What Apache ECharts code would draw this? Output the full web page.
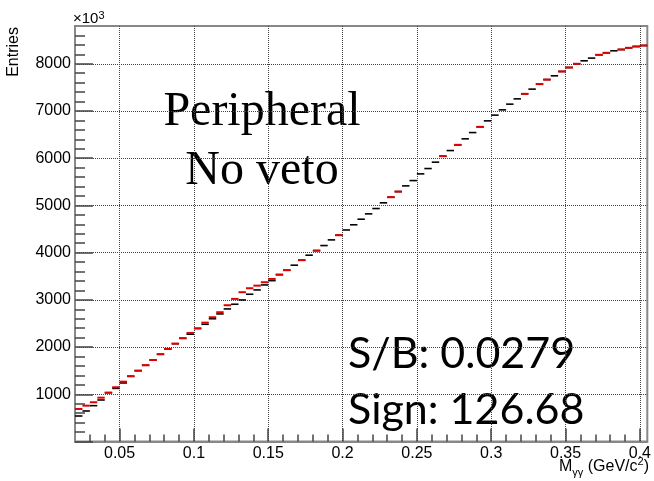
<!DOCTYPE html>
<html><head><meta charset="utf-8">
<script src="https://cdn.jsdelivr.net/npm/echarts@6/dist/echarts.min.js"></script>
<style>html,body{margin:0;padding:0;background:#fff}#c{width:654px;height:481px}</style>
</head><body><div id="c"></div>
<script>
const binCenters = [0.0225,0.0275,0.0325,0.0375,0.0425,0.0475,0.0525,0.0575,0.0625,0.0675,
0.0725,0.0775,0.0825,0.0875,0.0925,0.0975,0.1025,0.1075,0.1125,0.1175,
0.1225,0.1275,0.1325,0.1375,0.1425,0.1475,0.1525,0.1575,0.1625,0.1675,
0.1725,0.1775,0.1825,0.1875,0.1925,0.1975,0.2025,0.2075,0.2125,0.2175,
0.2225,0.2275,0.2325,0.2375,0.2425,0.2475,0.2525,0.2575,0.2625,0.2675,
0.2725,0.2775,0.2825,0.2875,0.2925,0.2975,0.3025,0.3075,0.3125,0.3175,
0.3225,0.3275,0.3325,0.3375,0.3425,0.3475,0.3525,0.3575,0.3625,0.3675,
0.3725,0.3775,0.3825,0.3875,0.3925,0.3975,0.4025];
const blackCounts = [540,646,759,879,1034,1125,1240,1382,1500,1615,
1727,1848,1960,2072,2187,2272,2395,2483,2600,2702,
2808,2907,2998,3119,3210,3316,3407,3534,3628,3734,
3840,3946,4043,4150,4270,4369,4480,4590,4708,4821,
4934,5055,5174,5293,5414,5526,5668,5781,5916,6043,
6162,6283,6410,6543,6664,6791,6912,7024,7145,7257,
7363,7463,7569,7665,7745,7837,7921,8000,8063,8120,
8190,8232,8275,8302,8338,8366,8387];
const redCounts = [689,759,831,928,1034,1149,1267,1382,1500,1615,
1727,1848,1960,2072,2187,2299,2395,2517,2632,2738,
2886,3020,3162,3246,3301,3373,3443,3534,3628,null,
3840,null,4043,null,null,4369,null,null,null,null,
null,null,5174,5293,null,null,null,null,null,6043,
null,6283,null,null,6664,null,null,null,null,null,
7363,null,7569,7665,null,7837,7921,8000,null,null,
8190,8232,null,8302,8338,8366,8387];
const binWidth = 0.005;
const xMajorTicks = [0.05,0.1,0.15,0.2,0.25,0.3,0.35,0.4];
const xMinorTicks = [0.03,0.04,0.06,0.07,0.08,0.09,0.11,0.12,0.13,0.14,0.16,0.17,0.18,0.19,
0.21,0.22,0.23,0.24,0.26,0.27,0.28,0.29,0.31,0.32,0.33,0.34,0.36,0.37,0.38,0.39];
const yMajorTicks = [0,1000,2000,3000,4000,5000,6000,7000,8000];
const yLabelTicks = [1000,2000,3000,4000,5000,6000,7000,8000];
const yMinorTicks = [200,400,600,800,1200,1400,1600,1800,2200,2400,2600,2800,3200,3400,3600,3800,
4200,4400,4600,4800,5200,5400,5600,5800,6200,6400,6600,6800,7200,7400,7600,7800,8200,8400,8600];

function toPairs(vals){
  const out=[];
  for(let i=0;i<binCenters.length;i++){ if(vals[i]!=null) out.push([binCenters[i], vals[i]]); }
  return out;
}
function makeRender(color,width){
  return function(params, api){
    const x=api.value(0), y=api.value(1);
    const p1=api.coord([x-binWidth/2,y]);
    const p2=api.coord([x+binWidth/2,y]);
    return {type:'line', shape:{x1:p1[0],y1:p1[1],x2:p2[0],y2:p2[1]}, style:{stroke:color,lineWidth:width}};
  };
}
const axisColor='#888';
const tickStyle={color:'#444',width:1.5};
const chart=echarts.init(document.getElementById('c'));
chart.setOption({
  animation:false,
  backgroundColor:'#fff',
  grid:{left:75,right:1.5,top:26,bottom:39.5,show:true,borderColor:axisColor,borderWidth:2,backgroundColor:'transparent'},
  xAxis:[
    {type:'value',min:0.02,max:0.405,position:'bottom',
     axisLine:{show:true,lineStyle:{color:axisColor,width:2}},
     axisTick:{show:true,inside:true,length:13,customValues:xMajorTicks,lineStyle:tickStyle},
     axisLabel:{customValues:xMajorTicks,color:'#000',fontSize:16,fontFamily:'Liberation Sans',margin:4,
       formatter:function(v){return String(+v.toFixed(3));}},
     splitLine:{show:true,lineStyle:{color:'#444',type:'dotted',width:1}}},
    {type:'value',min:0.02,max:0.405,position:'bottom',
     axisLine:{show:false},
     axisTick:{show:true,inside:true,length:7,customValues:xMinorTicks,lineStyle:tickStyle},
     axisLabel:{show:false},splitLine:{show:false}}
  ],
  yAxis:[
    {type:'value',min:0,max:8800,position:'left',
     axisLine:{show:true,lineStyle:{color:axisColor,width:2}},
     axisTick:{show:true,inside:true,length:18,customValues:yMajorTicks,lineStyle:tickStyle},
     axisLabel:{customValues:yLabelTicks,color:'#000',fontSize:16,fontFamily:'Liberation Sans',margin:4,
       formatter:function(v){return String(Math.round(v));}},
     splitLine:{show:true,lineStyle:{color:'#444',type:'dotted',width:1}}},
    {type:'value',min:0,max:8800,position:'left',
     axisLine:{show:false},
     axisTick:{show:true,inside:true,length:10,customValues:yMinorTicks,lineStyle:tickStyle},
     axisLabel:{show:false},splitLine:{show:false}}
  ],
  series:[
    {type:'custom',name:'data',xAxisIndex:0,yAxisIndex:0,renderItem:makeRender('#000',1.6),
     data:toPairs(blackCounts),encode:{x:0,y:1},z:3},
    {type:'custom',name:'fit',xAxisIndex:0,yAxisIndex:0,renderItem:makeRender('#e00000',2),
     data:toPairs(redCounts),encode:{x:0,y:1},z:4}
  ],
  graphic:[
    {type:'text',x:14,y:27,rotation:Math.PI/2,style:{text:'Entries',align:'right',verticalAlign:'middle',
      fontSize:16,fontFamily:'Liberation Sans',fill:'#000'}},
    {type:'text',x:73,y:19,style:{text:'×10{sup|3}',align:'left',verticalAlign:'middle',
      fontSize:15,fontFamily:'Liberation Sans',fill:'#000',lineHeight:18,
      rich:{sup:{fontSize:11,verticalAlign:'top',lineHeight:18,fontFamily:'Liberation Sans'}}}},
    {type:'text',x:649,y:467,style:{text:'M{sub|γγ} (GeV/c{sup|2})',align:'right',verticalAlign:'middle',
      fontSize:16,fontFamily:'Liberation Sans',fill:'#000',lineHeight:22,
      rich:{sub:{fontSize:11,verticalAlign:'bottom',lineHeight:22,fontFamily:'Liberation Sans'},
            sup:{fontSize:11,verticalAlign:'top',lineHeight:22,fontFamily:'Liberation Sans'}}}},
    {type:'text',x:262,y:112,style:{text:'Peripheral',align:'center',verticalAlign:'middle',
      fontSize:48,fontFamily:'Liberation Serif',fill:'#000'}},
    {type:'text',x:262,y:171,style:{text:'No veto',align:'center',verticalAlign:'middle',
      fontSize:48,fontFamily:'Liberation Serif',fill:'#000'}},
    {type:'text',x:348,y:354,style:{text:'S/B: 0.0279',align:'left',verticalAlign:'middle',
      fontSize:43,fontFamily:'Lato',fill:'#000'}},
    {type:'text',x:348,y:410,style:{text:'Sign: 126.68',align:'left',verticalAlign:'middle',
      fontSize:43,fontFamily:'Lato',fill:'#000'}}
  ]
});
</script></body></html>
